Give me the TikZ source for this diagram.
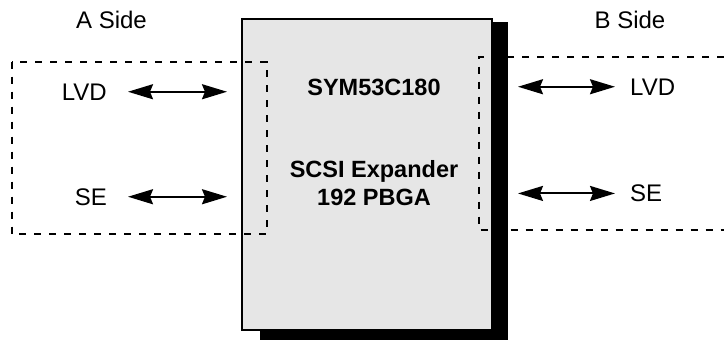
\documentclass[tikz,border=0pt]{standalone}
\usepackage{fontspec}
\setmainfont{Liberation Sans}
\usetikzlibrary{positioning, calc, arrows.meta, backgrounds}
\definecolor{chipgray}{RGB}{230,230,230}
\tikzset{
  lbl/.style={font=\fontsize{24}{28}\selectfont, inner sep=0pt},
  chiplbl/.style={font=\fontsize{23.5}{28}\selectfont\bfseries, inner sep=0pt},
  chipbox/.style={draw, line width=2pt, fill=chipgray, minimum width=250pt, minimum height=311pt, inner sep=0pt},
  sidebox/.style={line width=2pt, dash pattern=on 7pt off 8pt},
  link/.style={line width=2pt, {Stealth[length=25pt,width=15pt,inset=3pt]}-{Stealth[length=25pt,width=15pt,inset=3pt]}}
}

\begin{document}
\begin{tikzpicture}[x=1pt,y=-1pt]
	\useasboundingbox (0,0) rectangle (724,340);
	
	\node[chipbox] (chip) at (367,174.5) {};
	\begin{scope}[on background layer]
		\fill ($(chip.south west)+(19,9)$) rectangle ($(chip.north east)+(15,4)$);
	\end{scope}
	
	\node[chiplbl, anchor=base] (chipname) at (374,95)  {SYM53C180};
	\node[chiplbl, anchor=base] (chiptype) at (374,177) {SCSI Expander};
	\node[chiplbl, anchor=base] (chippkg)  at (374,205.7) {192 PBGA};
	
	\node[lbl, anchor=base] (aside) at (111.5,28) {A Side};
	\node[lbl, anchor=base] (bside) at (630,28) {B Side};
	
	\node[lbl, anchor=base east] (lvdA) at (107,100) {LVD};
	\node[lbl, anchor=base east] (seA)  at (107,205) {SE};
	\node[lbl, anchor=base west] (lvdB) at (630,95) {LVD};
	\node[lbl, anchor=base west] (seB)  at (630,201.7) {SE};
	
	\draw[sidebox] (11.7,61.7) rectangle (266.7,234.3);
	\draw[sidebox] (724,56.7) -- (479,56.7) -- (479,230) -- (724,230);
	
	\draw[link] ([xshift=21pt]lvdA.east) -- ($(lvdA -| chip.west)+(-14,0)$);
	\draw[link] ([xshift=21pt]seA.east) -- ($(seA -| chip.west)+(-14,0)$);
	\draw[link] ($(lvdB -| chip.east)+(25,0)$) -- ([xshift=-15pt]lvdB.west);
	\draw[link] ($(seB -| chip.east)+(25,0)$) -- ([xshift=-15pt]seB.west);
\end{tikzpicture}
\end{document}
